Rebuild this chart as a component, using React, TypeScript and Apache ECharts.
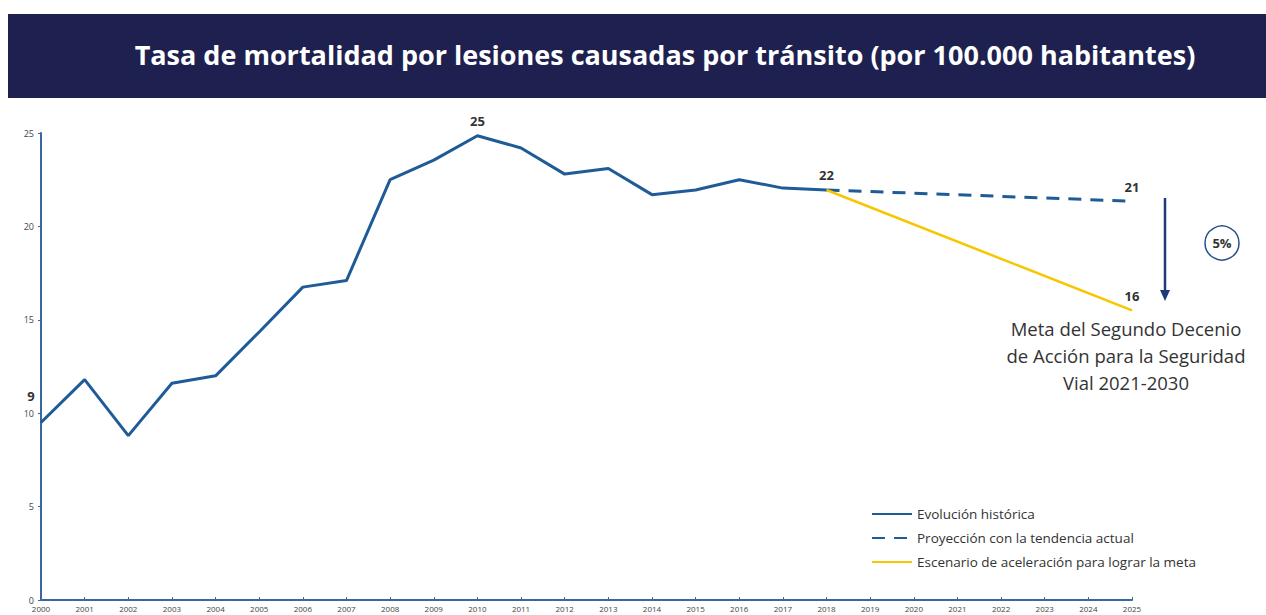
import React, { useEffect, useRef } from "react";
import * as echarts from "echarts";

const years = ["2000","2001","2002","2003","2004","2005","2006","2007","2008","2009","2010","2011","2012","2013","2014","2015","2016","2017","2018","2019","2020","2021","2022","2023","2024","2025"];
const historical = [9.5, 11.8, 8.8, 11.6, 12.0, 14.35, 16.75, 17.1, 22.5, 23.55, 24.85, 24.2, 22.8, 23.1, 21.7, 21.95, 22.5, 22.05, 21.95];
const projection: Record<string, number> = { "2018": 21.95, "2025": 21.35 };
const acceleration: Record<string, number> = { "2018": 21.95, "2025": 15.5 };
const histLabels: Record<string, string> = { "2000": "9", "2010": "25", "2018": "22" };
const projLabel = "21";
const accLabel = "16";
const yTicks = [0, 5, 10, 15, 20, 25];
const title = "Tasa de mortalidad por lesiones causadas por tránsito (por 100.000 habitantes)";
const seriesNames = ["Evolución histórica", "Proyección con la tendencia actual", "Escenario de aceleración para lograr la meta"];
const goalText = ["Meta del Segundo Decenio", "de Acción para la Seguridad", "Vial 2021-2030"];
const pctText = "5%";

const BLUE = "#1f5b97";
const NAVY = "#1e2150";
const YELLOW = "#f8c600";
const LABEL_FONT = "'Open Sans', 'Noto Sans', sans-serif";

export default function App() {
  const ref = useRef<HTMLDivElement>(null);
  useEffect(() => {
    if (!ref.current) return;
    const chart = echarts.init(ref.current, undefined, { renderer: "svg" });
    const lblStyle = { show: true, position: "top", distance: 8, color: "#333", fontSize: 13, fontWeight: "bold", fontFamily: LABEL_FONT };
    const histData = years.map((y, i) => (i < historical.length ? historical[i] : null));
    const projData = years.map((y) => (projection[y] === undefined ? null : projection[y]));
    const accData = years.map((y) => (acceleration[y] === undefined ? null : acceleration[y]));
    const histMarks = Object.keys(histLabels).map((y) => ({
      name: histLabels[y],
      coord: [y, historical[years.indexOf(y)]],
      label: y === "2000" ? { ...lblStyle, offset: [-10, -12] } : lblStyle,
    }));
    const mp = (data: any[]) => ({
      symbol: "circle",
      symbolSize: 0,
      silent: true,
      label: { ...lblStyle, formatter: (p: any) => p.name },
      data,
    });
    chart.setOption({
      animation: false,
      grid: { left: 41, right: 134, top: 133, bottom: 15, containLabel: false },
      legend: {
        orient: "vertical",
        left: 866,
        top: 502,
        itemWidth: 40,
        itemHeight: 14,
        itemGap: 10,
        itemStyle: { opacity: 0 },
        textStyle: { fontSize: 13.5, color: "#333", fontFamily: LABEL_FONT },
        data: seriesNames,
      },
      xAxis: {
        type: "category",
        data: years,
        boundaryGap: false,
        axisLine: { lineStyle: { color: "#3a679f", width: 2 } },
        axisTick: { show: true, inside: true, length: 3, lineStyle: { color: "#3a679f" } },
        axisLabel: { fontSize: 8, color: "#444", margin: 4, interval: 0, fontFamily: LABEL_FONT },
        splitLine: { show: false },
      },
      yAxis: {
        type: "value",
        min: yTicks[0],
        max: yTicks[yTicks.length - 1],
        interval: 5,
        axisLine: { show: true, lineStyle: { color: "#3a679f", width: 2 } },
        axisTick: { show: true, length: 3, lineStyle: { color: "#3a679f" } },
        axisLabel: { fontSize: 9, color: "#444", margin: 7, fontFamily: LABEL_FONT },
        splitLine: { show: false },
      },
      series: [
        {
          name: seriesNames[0], type: "line", data: histData, symbol: "none",
          lineStyle: { color: BLUE, width: 3 }, itemStyle: { color: BLUE }, z: 3,
          markPoint: mp(histMarks),
        },
        {
          name: seriesNames[1], type: "line", data: projData, symbol: "none", connectNulls: true,
          lineStyle: { color: BLUE, width: 3, type: [13, 9] }, itemStyle: { color: BLUE }, z: 2,
          markPoint: mp([{ name: projLabel, coord: ["2025", projection["2025"]] }]),
        },
        {
          name: seriesNames[2], type: "line", data: accData, symbol: "none", connectNulls: true,
          lineStyle: { color: YELLOW, width: 2.5 }, itemStyle: { color: YELLOW }, z: 2,
          markPoint: mp([{ name: accLabel, coord: ["2025", acceleration["2025"]] }]),
        },
      ],
      graphic: [
        { type: "rect", left: 8, top: 14, shape: { width: 1258, height: 84 }, style: { fill: NAVY }, z: 0 },
        {
          type: "text", x: 665, y: 54,
          style: { text: title, fill: "#fff", font: "bold 27px 'Open Sans', 'Noto Sans', sans-serif", align: "center", verticalAlign: "middle" }, z: 1,
        },
        { type: "line", shape: { x1: 1165, y1: 198, x2: 1165, y2: 292 }, style: { stroke: "#1f3a78", lineWidth: 2.5 } },
        { type: "polygon", shape: { points: [[1160, 290], [1170, 290], [1165, 301]] }, style: { fill: "#1f3a78" } },
        { type: "circle", shape: { cx: 1222, cy: 243, r: 17 }, style: { fill: "#fff", stroke: "#2a4f8e", lineWidth: 1.5 } },
        {
          type: "text", x: 1222, y: 243,
          style: { text: pctText, fill: "#333", font: "bold 13px 'Open Sans', sans-serif", align: "center", verticalAlign: "middle" },
        },
        ...goalText.map((t, i) => ({
          type: "text", x: 1126, y: 328 + i * 27,
          style: { text: t, fill: "#333", font: "18.5px 'Open Sans', 'Noto Sans', sans-serif", align: "center", verticalAlign: "middle" },
        })),
      ],
    });
    return () => chart.dispose();
  }, []);
  return <div ref={ref} style={{ position: "fixed", left: 0, top: 0, width: 1266, height: 615, background: "#fff" }} />;
}
